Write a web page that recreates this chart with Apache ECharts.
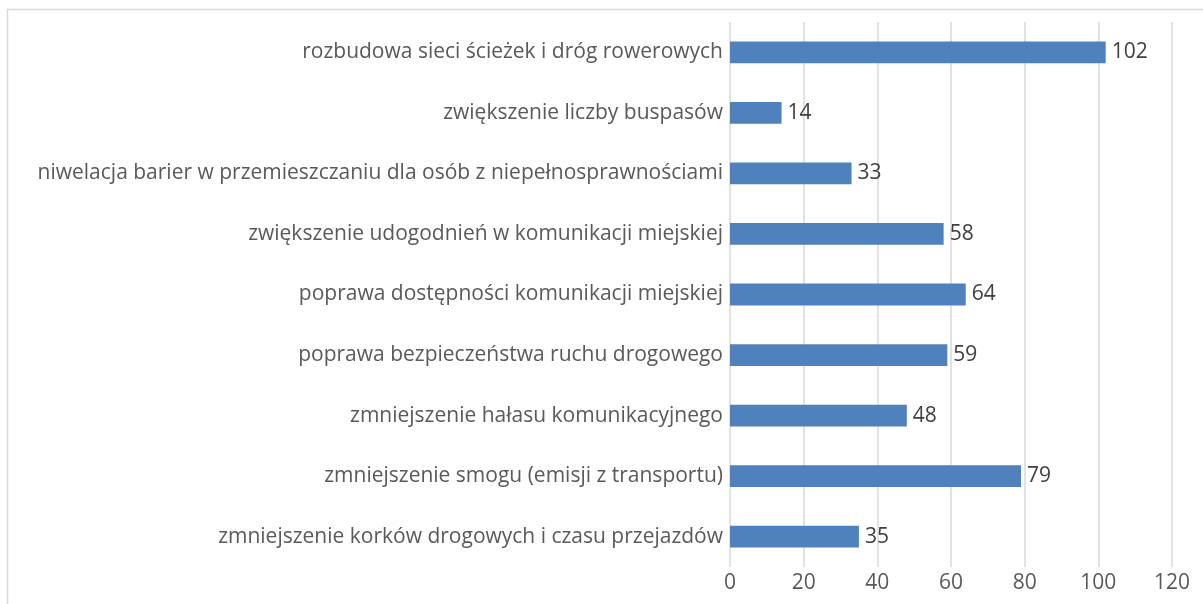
<!DOCTYPE html>
<html>
<head>
<meta charset="utf-8">
<script src="https://cdn.jsdelivr.net/npm/echarts@6/dist/echarts.min.js"></script>
<style>
  html, body { margin: 0; padding: 0; background: #fff; }
  #main { width: 1203px; height: 604px; }
</style>
</head>
<body>
<div id="main"></div>
<script>
  // od dołu do góry, tak jak na osi
  var categories = [
    'zmniejszenie korków drogowych i czasu przejazdów',
    'zmniejszenie smogu (emisji z transportu)',
    'zmniejszenie hałasu komunikacyjnego',
    'poprawa bezpieczeństwa ruchu drogowego',
    'poprawa dostępności komunikacji miejskiej',
    'zwiększenie udogodnień w komunikacji miejskiej',
    'niwelacja barier w przemieszczaniu dla osób z niepełnosprawnościami',
    'zwiększenie liczby buspasów',
    'rozbudowa sieci ścieżek i dróg rowerowych'
  ];
  var values = [35, 79, 48, 59, 64, 58, 33, 14, 102];
  var axisMin = 0, axisMax = 120, axisStep = 20;

  var font = 'Open Sans';
  var fs = 21;
  var chart = echarts.init(document.getElementById('main'));
  chart.setOption({
    animation: false,
    textStyle: { fontFamily: font },
    graphic: [{
      type: 'rect',
      shape: { x: 7.5, y: 9.5, width: 1300, height: 700 },
      style: { fill: 'none', stroke: '#d9d9d9', lineWidth: 1.5 },
      silent: true
    }],
    grid: { left: 730, right: 31, top: 22, bottom: 37 },
    xAxis: {
      type: 'value',
      min: axisMin,
      max: axisMax,
      interval: axisStep,
      axisLine: { show: false },
      axisTick: { show: false },
      splitLine: { show: true, lineStyle: { color: '#d9d9d9', width: 1.5 } },
      axisLabel: { color: '#595959', fontSize: fs, fontFamily: font, margin: 6 }
    },
    yAxis: {
      type: 'category',
      data: categories,
      axisLine: { show: false },
      axisTick: { show: false },
      axisLabel: { color: '#595959', fontSize: fs, fontFamily: font, margin: 7 }
    },
    series: [{
      type: 'bar',
      data: values,
      barWidth: '36%',
      itemStyle: { color: '#4f81bd' },
      label: {
        show: true,
        position: 'right',
        distance: 6,
        color: '#404040',
        fontSize: fs,
        fontFamily: font
      }
    }]
  });
</script>
</body>
</html>
